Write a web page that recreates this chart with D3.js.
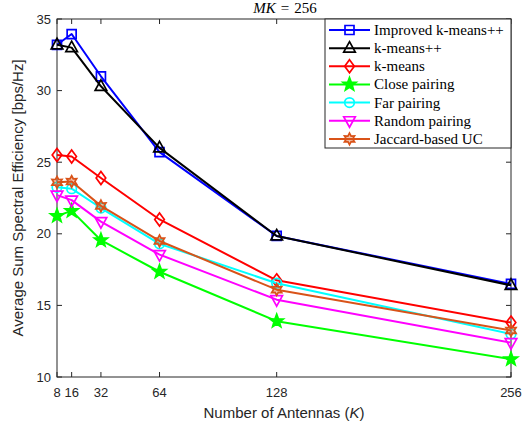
<!DOCTYPE html>
<html><head><meta charset="utf-8">
<script src="https://cdn.jsdelivr.net/npm/d3@7"></script>
<style>body{margin:0;background:#fff}svg{display:block}</style>
</head><body>
<svg id="c" width="528" height="427"></svg>
<script>
const antennas = [8, 16, 32, 64, 128, 256];
const xTicks = [8, 16, 32, 64, 128, 256];
const yTicks = [10, 15, 20, 25, 30, 35];
const seriesNames = ["Improved k-means++", "k-means++", "k-means", "Close pairing", "Far pairing", "Random pairing", "Jaccard-based UC"];
const improvedKmeansPP = [33.2, 33.95, 31.0, 25.7, 19.85, 16.5];
const kmeansPP = [33.2, 33.0, 30.3, 26.0, 19.85, 16.4];
const kmeans = [25.5, 25.4, 23.9, 21.0, 16.75, 13.8];
const closePairing = [21.25, 21.6, 19.55, 17.35, 13.9, 11.25];
const farPairing = [23.25, 23.15, 21.8, 19.3, 16.55, 13.0];
const randomPairing = [22.7, 22.35, 20.85, 18.55, 15.4, 12.4];
const jaccardUC = [23.6, 23.65, 21.95, 19.5, 16.1, 13.25];
const colors = ["#0000ff", "#000000", "#ff0000", "#00ff00", "#00ffff", "#ff00ff", "#d95319"];
const markers = ["square", "triangle", "diamond", "star5", "circle", "triangleDown", "star6"];
const allSeries = [improvedKmeansPP, kmeansPP, kmeans, closePairing, farPairing, randomPairing, jaccardUC];

const svg = d3.select("#c");
const L = 57, R = 511, T = 19, B = 377;
const x = d3.scaleLinear().domain([8, 256]).range([L, R]);
const y = d3.scaleLinear().domain([10, 35]).range([B, T]);
const axisColor = "#262626";

function starPath(n, ro, ri) {
  const pts = [];
  for (let i = 0; i < 2 * n; i++) {
    const a = -Math.PI / 2 + i * Math.PI / n;
    const r = i % 2 === 0 ? ro : ri;
    pts.push([r * Math.cos(a), r * Math.sin(a)]);
  }
  return "M" + pts.map(p => p.join(",")).join("L") + "Z";
}
function markerPath(m) {
  switch (m) {
    case "square": return "M-4.5,-4.5H4.5V4.5H-4.5Z";
    case "triangle": return "M0,-6.5L5.8,4L-5.8,4Z";
    case "triangleDown": return "M0,6.5L5.8,-4L-5.8,-4Z";
    case "diamond": return "M0,-6.5L4.8,0L0,6.5L-4.8,0Z";
    case "circle": return "M4.8,0A4.8,4.8 0 1,1 -4.8,0A4.8,4.8 0 1,1 4.8,0Z";
    case "star5": return starPath(5, 7, 2.9);
    case "star6": return starPath(6, 5.8, 3.2);
  }
}
function drawMarker(g, m, col, cx, cy) {
  g.append("path").attr("d", markerPath(m))
    .attr("transform", `translate(${cx},${cy})`)
    .attr("fill", m === "star5" ? col : (m === "star6" ? col : "none"))
    .attr("fill-opacity", m === "star6" ? 0.35 : 1)
    .attr("stroke", col).attr("stroke-width", 1.7)
    .attr("stroke-linejoin", "miter");
}

// frame
const tickLen = 5;
const ax = svg.append("g");
xTicks.forEach(t => {
  ax.append("line").attr("x1", x(t)).attr("x2", x(t)).attr("y1", B).attr("y2", B - tickLen).attr("stroke", axisColor);
  ax.append("line").attr("x1", x(t)).attr("x2", x(t)).attr("y1", T).attr("y2", T + tickLen).attr("stroke", axisColor);
  ax.append("text").attr("x", x(t)).attr("y", 397).attr("text-anchor", "middle")
    .attr("font-family", "Liberation Sans, Arial, sans-serif").attr("font-size", 13).attr("fill", axisColor).text(t);
});
yTicks.forEach(t => {
  ax.append("line").attr("x1", L).attr("x2", L + tickLen).attr("y1", y(t)).attr("y2", y(t)).attr("stroke", axisColor);
  ax.append("line").attr("x1", R).attr("x2", R - tickLen).attr("y1", y(t)).attr("y2", y(t)).attr("stroke", axisColor);
  ax.append("text").attr("x", 51).attr("y", y(t) + 4.5).attr("text-anchor", "end")
    .attr("font-family", "Liberation Sans, Arial, sans-serif").attr("font-size", 13).attr("fill", axisColor).text(t);
});
ax.append("rect").attr("x", L).attr("y", T).attr("width", R - L).attr("height", B - T)
  .attr("fill", "none").attr("stroke", axisColor).attr("stroke-width", 1);

// lines
const line = d3.line().x((d, i) => x(antennas[i])).y(d => y(d));
allSeries.forEach((s, k) => {
  const g = svg.append("g");
  g.append("path").attr("d", line(s)).attr("fill", "none").attr("stroke", colors[k]).attr("stroke-width", 2).attr("stroke-linejoin", "round");
  s.forEach((v, i) => drawMarker(g, markers[k], colors[k], x(antennas[i]), y(v)));
});

// title
const title = svg.append("text").attr("x", 285).attr("y", 13).attr("text-anchor", "middle")
  .attr("font-family", "Liberation Serif, Times New Roman, serif").attr("font-size", 15).attr("fill", "#000");
title.append("tspan").attr("font-style", "italic").text("MK");
title.append("tspan").attr("dx", 5).text("=");
title.append("tspan").attr("dx", 5).text("256");

// axis labels
svg.append("text").attr("x", 284).attr("y", 418).attr("text-anchor", "middle")
  .attr("font-family", "Liberation Sans, Arial, sans-serif").attr("font-size", 15).attr("fill", axisColor)
  .call(t => { t.append("tspan").text("Number of Antennas ("); t.append("tspan").attr("font-style", "italic").text("K"); t.append("tspan").text(")"); });
svg.append("text").attr("transform", "translate(23,198) rotate(-90)").attr("text-anchor", "middle")
  .attr("font-family", "Liberation Sans, Arial, sans-serif").attr("font-size", 15).attr("fill", axisColor)
  .text("Average Sum Spectral Efficiency [bps/Hz]");

// legend
const lg = svg.append("g");
lg.append("rect").attr("x", 325).attr("y", T).attr("width", R - 325).attr("height", 129)
  .attr("fill", "#fff").attr("stroke", axisColor).attr("stroke-width", 1);
seriesNames.forEach((n, k) => {
  const cy = 30 + k * 18.15;
  lg.append("line").attr("x1", 329).attr("x2", 370).attr("y1", cy).attr("y2", cy).attr("stroke", colors[k]).attr("stroke-width", 2);
  drawMarker(lg, markers[k], colors[k], 349.5, cy);
  lg.append("text").attr("x", 374).attr("y", cy + 5).attr("font-family", "Liberation Serif, Times New Roman, serif")
    .attr("font-size", 15).attr("fill", "#000").text(n);
});
</script>
</body></html>
